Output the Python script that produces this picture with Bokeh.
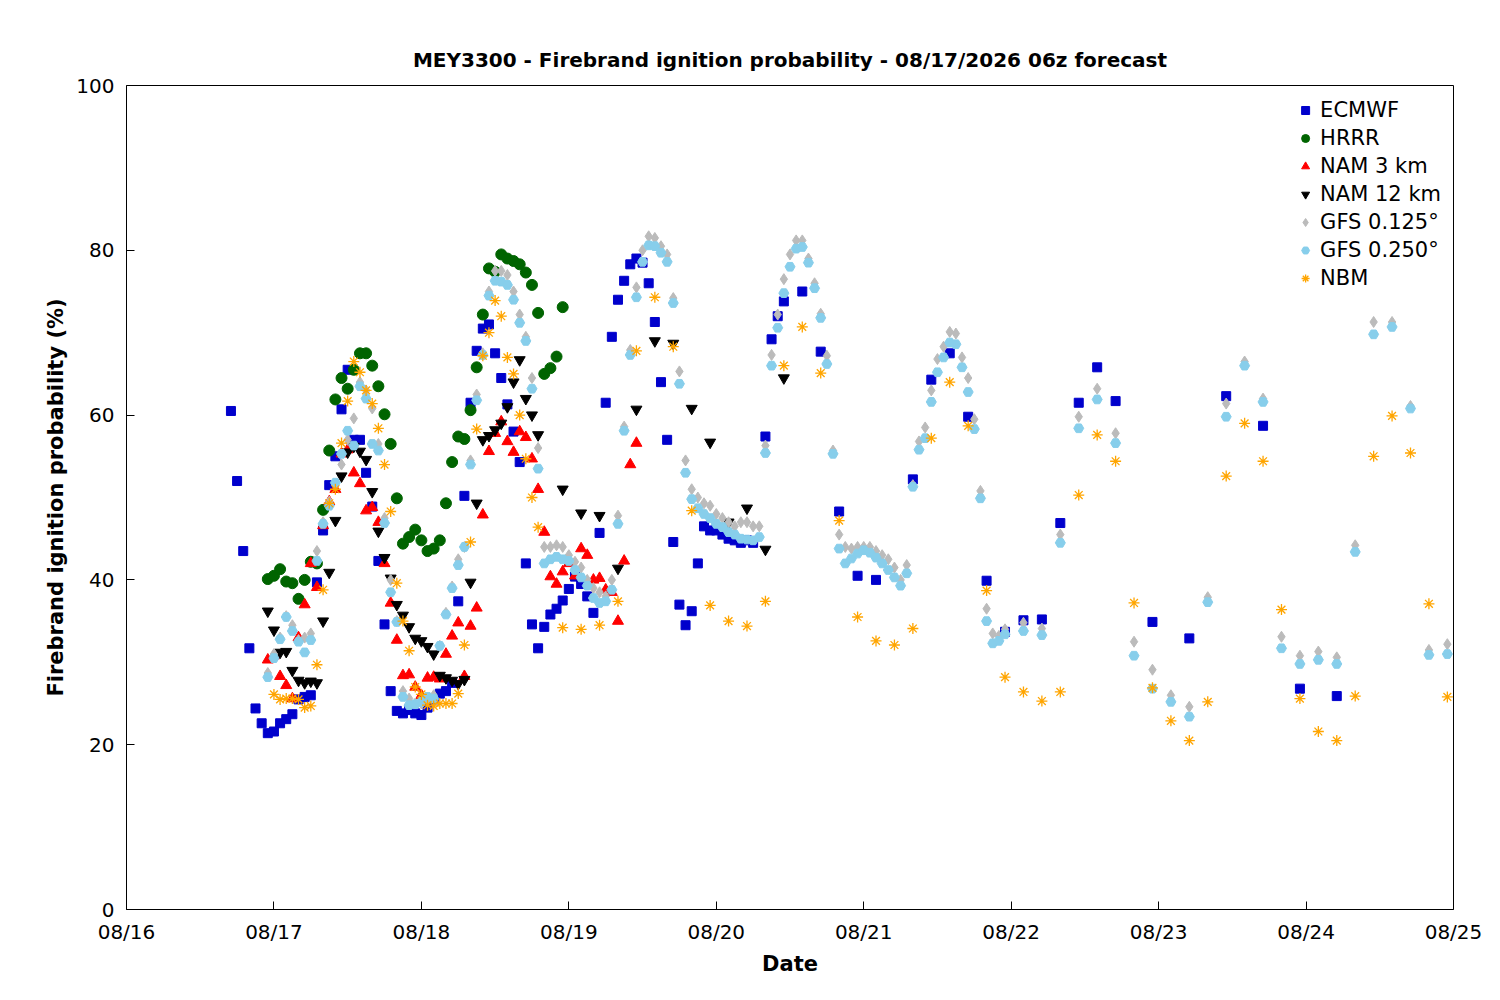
from bokeh.plotting import figure
from bokeh.models import Legend, LegendItem, FixedTicker, Range1d
from bokeh.embed import file_html
from bokeh.resources import INLINE

# hours since 08/16 00z
ecmwf_h = list(range(17, 103)) + [104, 105, 106, 107, 110, 113, 116, 119, 122, 128, 131, 134, 137, 140, 143,
                                  146, 149, 152, 155, 158, 161, 167, 173, 179, 185, 191, 197]
ecmwf_v = [60.5, 52, 43.5, 31.7, 24.4, 22.6, 21.4, 21.6, 22.6, 23.1, 23.7, 25.5, 25.8, 26, 39.7,
           46, 51.5, 55, 60.7, 65.5, 57, 57, 53, 48.9, 42.3, 34.6, 26.5, 24.1, 23.8, 24.2, 23.8,
           23.6, 24.5, 25.5, 26.2, 26.5, 27.5, 37.4, 50.2, 61.5, 67.8, 70.5, 71, 67.5, 64.5, 61.3,
           58, 54.3, 42, 34.6, 31.7, 34.3, 35.8, 36.5, 37.5, 38.9, 40.4, 39.5, 38, 36, 45.7, 61.5,
           69.5, 74, 76.3, 78.3, 79, 78.5, 76, 71.3, 64, 57, 44.6, 37, 34.5, 36.2, 42, 46.5, 46, 46,
           45.5, 45, 44.8, 44.5, 44.8, 44.5,
           57.4, 69.2, 72, 73.8, 75, 67.7, 48.3, 40.5, 40, 52.2, 64.3, 67.5, 59.8, 39.9, 33.7,
           35.1, 35.2, 46.9, 61.5, 65.8, 61.7, 34.9, 32.9, 62.3, 58.7, 26.8, 25.9]

hrrr_h = list(range(23, 72))
hrrr_v = [40.1, 40.5, 41.3, 39.8, 39.6, 37.7, 40, 42.2, 42, 48.5, 55.7, 61.9, 64.5, 63.2, 65.5,
          67.5, 67.5, 66, 63.5, 60.1, 56.5, 49.9, 44.4, 45.2, 46.1, 44.8, 43.5, 43.8, 44.8, 49.3,
          54.3, 57.4, 57.1, 60.6, 65.8, 72.2, 77.8, 77.4, 79.5, 79, 78.7, 78.3, 77.3, 75.8, 72.4,
          65, 65.7, 67.1, 73.1]

nam3_h = list(range(23, 84))
nam3_v = [30.3, 30.8, 28.3, 27.2, 25.6, 33, 37, 42, 39.1, 46.6, 49.5, 51, 55.3, 55.8, 53, 51.7,
          48.4, 48.8, 47, 42, 37.2, 32.7, 28.4, 28.5, 27, 26, 28.1, 28.2, 28, 31, 33.2, 34.8, 28.3,
          34.4, 36.6, 47.9, 55.6, 57.8, 59.2, 56.8, 55.5, 58, 57.3, 54.7, 51, 45.8, 40.4, 39.5, 41,
          42, 40.5, 43.8, 43, 40, 40.2, 38.8, 38.5, 35, 42.3, 54, 56.6]

nam12_h = list(range(23, 68)) + [71, 74, 77, 80, 83, 86, 89, 92, 95, 98, 101, 104, 107]
nam12_v = [36.2, 33.9, 31.2, 31.3, 29, 27.8, 27.5, 27.7, 27.5, 35, 40.9, 47.2, 52.6, 55.5, 56.2,
           55.6, 54.6, 50.7, 45.9, 42.7, 40.2, 37, 35.7, 34.3, 32.9, 32.6, 31.9, 31, 28.4, 28.1,
           27.8, 27.4, 27.9, 39.7, 49.3, 57, 57.5, 58.2, 59, 61, 64, 66.7, 62, 60, 57.6,
           51, 48.1, 47.8, 41.4, 60.7, 69, 68.7, 60.8, 56.7, 47, 48.7, 43.7, 64.5]

gfs125_h = list(range(23, 144)) + list(range(146, 216, 3))
gfs125_v = [28.7, 31, 33, 35.6, 34.5, 32.7, 33, 33.5, 43.5, 47, 49.5, 51.5, 54, 57, 59.6, 64, 63,
            60.8, 56.5, 47.5, 40, 35, 26.5, 25.6, 25, 25, 25.5, 26, 32, 36, 39.2, 42.5, 44, 54.5,
            62.5, 67.5, 75, 77.5, 77.5, 77, 75, 72.2, 69.5, 64.5, 56, 44, 44, 44.2, 44, 43, 42.2,
            41.5, 40, 39, 38.5, 38, 40, 47.8, 58.6, 67.9, 75.5, 80, 81.7, 81.5, 80.5, 79.5, 74.2,
            65.3, 54.5, 51, 50, 49.3, 49, 48, 47.5, 47, 46.5, 47, 47, 46.5, 46.5, 56.3, 67.3, 72.2,
            76.5, 79.5, 81.2, 81.2, 79, 76, 72.3, 67.2, 55.7, 45.5, 44, 43.8, 44, 44, 44, 43.5, 43,
            42.5, 41.5, 40, 41.8, 51.5, 56.8, 58.5, 63, 66.8, 68.3, 70.1, 69.9, 67, 64.5,
            59.5, 50.8, 36.5, 33.5, 33.2, 34,
            34.8, 34.1, 45.5, 59.8, 63.2, 57.8, 32.5, 29.1, 26, 24.6, 37.9, 61.4, 66.5, 62, 33.1,
            30.8, 31.3, 30.6, 44.2, 71.3, 71.3, 61.1, 31.5, 32.2]

gfs250_h = list(range(23, 144)) + list(range(146, 216, 3))
gfs250_v = [28.2, 30.5, 32.8, 35.5, 33.8, 32.5, 31.2, 32.7, 42.3, 46.8, 49, 51.8, 55.3, 58.1, 56.3,
            63.5, 62, 56.5, 55.7, 46.9, 38.5, 34.9, 25.8, 24.8, 24.9, 25.2, 25.8, 25.6, 32, 35.8,
            39, 41.8, 44, 54, 61.8, 67.3, 74.5, 76.3, 76.2, 75.8, 74, 71.2, 69, 63.2, 53.5, 42,
            42.5, 42.8, 42.5, 42.3, 41.2, 40.3, 39.3, 37.8, 37.2, 37.4, 38.8, 46.8, 58.1, 67.3,
            74.3, 78.6, 80.6, 80.5, 79.7, 78.6, 73.6, 63.8, 53, 49.8, 48.7, 48, 47.5, 46.8, 46.4,
            45.8, 45.5, 45, 44.9, 44.8, 45.2, 55.4, 66, 70.6, 74.8, 78, 80.2, 80.4, 78.5, 75.4,
            71.8, 66.2, 55.3, 43.8, 42, 42.6, 43.2, 43.6, 43.3, 42.7, 42, 41.2, 40.3, 39.3, 40.8,
            51.3, 55.8, 57.2, 61.6, 65.2, 67, 68.8, 68.6, 65.8, 62.8, 58.3, 49.9, 35, 32.3, 32.6,
            33.4,
            33.8, 33.3, 44.5, 58.4, 61.9, 56.6, 30.8, 26.8, 25.2, 23.4, 37.3, 59.8, 66, 61.6, 31.7,
            29.8, 30.3, 29.8, 43.4, 69.8, 70.7, 60.8, 30.9, 31]

nbm_h = list(range(24, 68)) + list(range(71, 216, 3))
nbm_v = [26.1, 25.5, 25.6, 25.6, 25.5, 24.5, 24.7, 29.7, 38.8, 49.3, 51, 56.6, 61.7, 66.5, 65.2,
         63, 61.4, 58.4, 54, 48.3, 39.6, 35, 31.4, 27, 26.1, 24.8, 24.7, 25, 25, 25, 26.2, 32.1,
         44.6, 58.3, 67.2, 70, 73.9, 72, 67, 65, 60, 54.7, 50, 46.4,
         34.2, 34, 34.5, 37.4, 67.8, 74.3, 68.3, 48.4, 36.9, 35, 34.4, 37.4, 66, 70.7, 65.1, 47.2,
         35.5, 32.6, 32.1, 34.1, 57.2, 64, 58.7, 38.7, 28.2, 26.4, 25.3, 26.4, 50.3, 57.6, 54.4,
         37.2, 26.9, 22.9, 20.5, 25.2, 52.6, 59, 54.4, 36.4, 25.6, 21.6, 20.5, 25.9, 55, 59.9,
         55.4, 37.1, 25.8]

tick_hours = [0, 24, 48, 72, 96, 120, 144, 168, 192, 216]
tick_labels = ["08/16", "08/17", "08/18", "08/19", "08/20", "08/21", "08/22", "08/23", "08/24", "08/25"]
y_ticks = [0, 20, 40, 60, 80, 100]

FONT = "DejaVu Sans"
p = figure(width=1490, height=990, output_backend="svg", toolbar_location=None,
           x_range=Range1d(0, 216), y_range=Range1d(0, 100),
           min_border_left=126, min_border_right=37, min_border_top=85, min_border_bottom=81,
           title="MEY3300 - Firebrand ignition probability - 08/17/2026 06z forecast")
p.title.align = "center"
p.title.text_font = FONT
p.title.text_font_size = "20px"
p.title.text_color = "black"
p.title.offset = 0
p.title.standoff = 28
p.grid.visible = False
p.outline_line_color = "black"
p.outline_line_width = 1

p.xaxis.ticker = FixedTicker(ticks=tick_hours)
p.xaxis.major_label_overrides = {h: l for h, l in zip(tick_hours, tick_labels)}
p.yaxis.ticker = FixedTicker(ticks=y_ticks)
for ax in (p.xaxis[0], p.yaxis[0]):
    ax.major_tick_in = 8
    ax.major_tick_out = 0
    ax.major_tick_line_color = "black"
    ax.minor_tick_line_color = None
    ax.major_label_text_font = FONT
    ax.major_label_text_font_size = "20px"
    ax.major_label_text_color = "black"
    ax.axis_label_text_font = FONT
    ax.axis_label_text_font_size = "21px"
    ax.axis_label_text_font_style = "bold"
    ax.axis_label_text_color = "black"
    ax.axis_line_color = None
p.xaxis.axis_label = "Date"
p.yaxis.axis_label = "Firebrand ignition probability (%)"
p.xaxis.major_label_standoff = 10
p.yaxis.major_label_standoff = 12

items = []
r = p.scatter(ecmwf_h, ecmwf_v, marker="square", size=9, color="#0000cc")
items.append(LegendItem(label="ECMWF", renderers=[r]))
r = p.scatter(hrrr_h, hrrr_v, marker="circle", size=11, color="#006400")
items.append(LegendItem(label="HRRR", renderers=[r]))
r = p.scatter(nam3_h, nam3_v, marker="triangle", size=11, color="#ff0000")
items.append(LegendItem(label="NAM 3 km", renderers=[r]))
r = p.scatter(nam12_h, nam12_v, marker="inverted_triangle", size=11, color="#000000")
items.append(LegendItem(label="NAM 12 km", renderers=[r]))
r = p.scatter(gfs125_h, gfs125_v, marker="diamond", size=11, color="#bbbbbb")
items.append(LegendItem(label="GFS 0.125°", renderers=[r]))
r = p.scatter(gfs250_h, gfs250_v, marker="hex", size=10, color="#87ceeb")
items.append(LegendItem(label="GFS 0.250°", renderers=[r]))
r = p.scatter(nbm_h, nbm_v, marker="asterisk", size=11, line_color="#ffa500", line_width=1.3)
items.append(LegendItem(label="NBM", renderers=[r]))

leg = Legend(items=items, location="top_right", border_line_color=None,
             background_fill_alpha=0, label_text_font=FONT, label_text_font_size="21px",
             label_text_color="black",
             spacing=2, label_height=26, glyph_height=26, margin=12, padding=6)
p.add_layout(leg)

open("out.html", "w").write(file_html(p, INLINE))
